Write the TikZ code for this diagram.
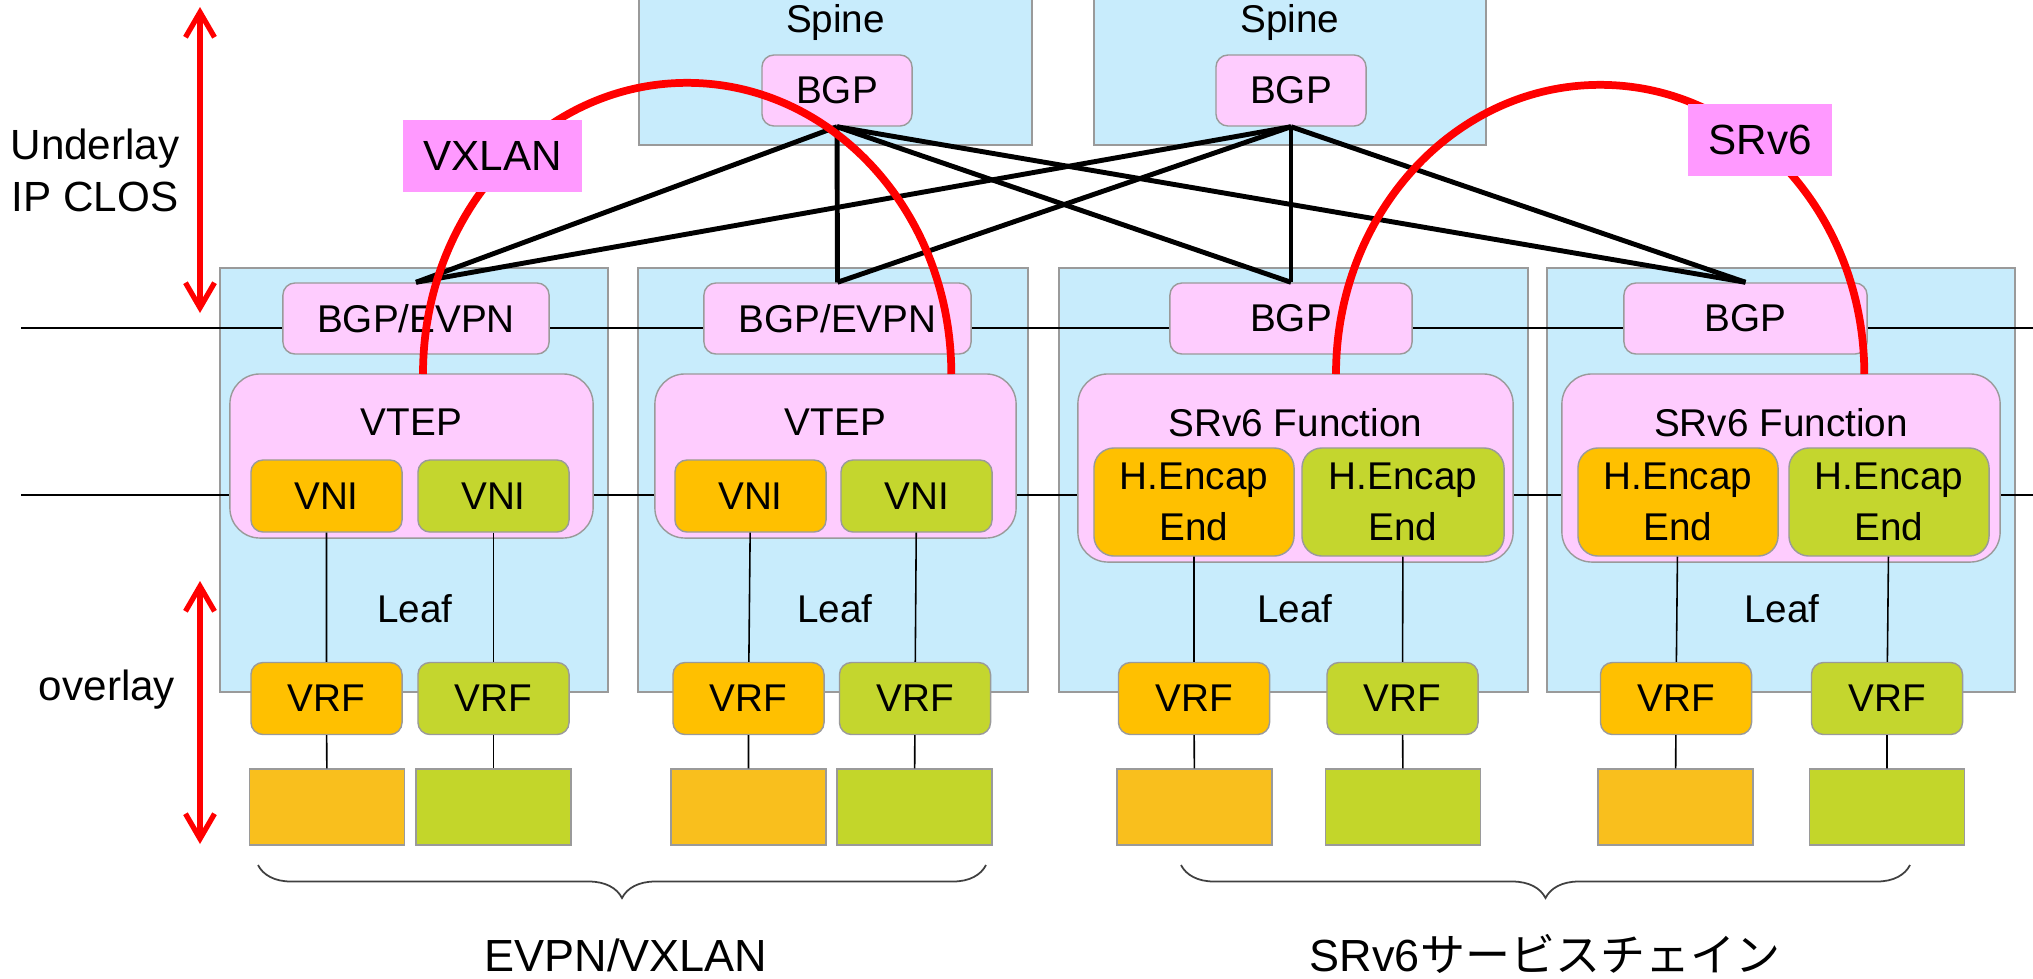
\documentclass[tikz,border=0pt]{standalone}
\usepackage{fontspec}
\setmainfont{Liberation Sans}
\newfontfamily\jpfont{Noto Sans CJK JP}
\usetikzlibrary{arrows.meta,decorations.pathreplacing}
\definecolor{skyFill}{HTML}{C8ECFC}
\definecolor{edgeGray}{HTML}{9A9A9A}
\definecolor{pinkFill}{HTML}{FECCFE}
\definecolor{tagPink}{HTML}{FF99FF}
\definecolor{vniOrange}{HTML}{FFC000}
\definecolor{vniGreen}{HTML}{C4D62E}
\definecolor{hostOrange}{HTML}{F9BF1D}
\definecolor{hostGreen}{HTML}{C3D62A}
\definecolor{braceGray}{HTML}{404040}

\begin{document}
\begin{tikzpicture}[
  x=0.01cm,y=-0.01cm,
  every node/.style={font=\fontsize{11}{14.5}\selectfont},
  shell/.style={draw=edgeGray,fill=skyFill,inner sep=0pt},
  proto/.style={draw=edgeGray,fill=pinkFill,rounded corners=1.2mm,inner sep=0pt,minimum height=0.71cm},
  func/.style={draw=edgeGray,fill=pinkFill,rounded corners=3mm,inner sep=0pt},
  ornbox/.style={draw=edgeGray,fill=vniOrange,rounded corners=1.2mm,inner sep=0pt,
    minimum width=1.51cm,minimum height=0.72cm},
  grnbox/.style={ornbox,fill=vniGreen},
  encO/.style={ornbox,rounded corners=2mm,minimum width=2cm,minimum height=1.08cm,align=center},
  encG/.style={encO,fill=vniGreen},
  hostO/.style={draw=edgeGray,fill=hostOrange,inner sep=0pt,minimum width=1.55cm,minimum height=0.76cm},
  hostG/.style={hostO,fill=hostGreen},
  tag/.style={fill=tagPink,inner sep=0pt,minimum height=0.72cm,font=\fontsize{12}{14}\selectfont},
  side/.style={anchor=base,font=\fontsize{12}{14}\selectfont},
  link/.style={line width=1.4pt,draw=black},
  wire/.style={line width=0.45pt,draw=black},
  tunnel/.style={line width=2.2pt,draw=red},
  reach/.style={{Straight Barb[length=2.5mm,width=2.9mm]}-{Straight Barb[length=2.5mm,width=2.9mm]},
    line width=1.5pt,draw=red},
  curly/.style={decorate,decoration={brace,mirror,amplitude=3.3mm},line width=0.5pt,draw=braceGray},
  group/.style={anchor=base,font=\fontsize{12.8}{15}\selectfont}
]
\useasboundingbox (0,0) rectangle (2033,978);

% spines
\node[shell,minimum width=3.93cm,minimum height=1.5cm] (spineA) at (835.5,70) {};
\node[shell,minimum width=3.92cm,minimum height=1.5cm] (spineB) at (1290,70) {};
\node[anchor=base] (spineAt) at (835.5,32) {Spine};
\node[anchor=base] (spineBt) at (1290,32) {Spine};
\node[proto,minimum width=1.5cm] (sbgpA) at (837,90.5) {BGP};
\node[proto,minimum width=1.5cm] (sbgpB) at (1291,90.5) {BGP};

% leaves
\node[shell,minimum width=3.88cm,minimum height=4.24cm] (leafA) at (414,480) {};
\node[shell,minimum width=3.90cm,minimum height=4.24cm] (leafB) at (833,480) {};
\node[shell,minimum width=4.69cm,minimum height=4.24cm] (leafC) at (1293.5,480) {};
\node[shell,minimum width=4.68cm,minimum height=4.24cm] (leafD) at (1781,480) {};

% layer lines
\coordinate (bgpW) at (21,328); \coordinate (bgpE) at (2033,328);
\coordinate (vniW) at (21,495); \coordinate (vniE) at (2033,495);
\draw[wire] (bgpW) -- (bgpE); \draw[wire] (vniW) -- (vniE);

\node[proto,minimum width=2.66cm] (lbgpA) at (416,318.5) {BGP/EVPN};
\node[proto,minimum width=2.67cm] (lbgpB) at (837.5,318.5) {BGP/EVPN};
\node[proto,minimum width=2.42cm] (lbgpC) at (1291,318.5) {BGP};
\node[proto,minimum width=2.43cm] (lbgpD) at (1745.5,318.5) {BGP};

% VTEP and SRv6 function blocks
\node[func,minimum width=3.63cm,minimum height=1.64cm] (vtepA) at (411.5,456) {};
\node[func,minimum width=3.61cm,minimum height=1.64cm] (vtepB) at (835.5,456) {};
\node[func,minimum width=4.35cm,minimum height=1.88cm] (funcC) at (1295.5,468) {};
\node[func,minimum width=4.38cm,minimum height=1.88cm] (funcD) at (1781,468) {};
\node[anchor=base] (vtepAt) at (411.5,435) {VTEP};
\node[anchor=base] (vtepBt) at (835.5,435) {VTEP};
\node[anchor=base] (funcCt) at (1295.5,436) {SRv6 Function};
\node[anchor=base] (funcDt) at (1781,436) {SRv6 Function};

\node[ornbox] (vniA1) at (326.5,496) {VNI};
\node[grnbox] (vniA2) at (493.5,496) {VNI};
\node[ornbox] (vniB1) at (750.5,496) {VNI};
\node[grnbox] (vniB2) at (916.5,496) {VNI};
\node[encO] (vniC1) at (1194,502) {H.Encap\\End};
\node[encG,minimum width=2.02cm] (vniC2) at (1403,502) {H.Encap\\End};
\node[encO] (vniD1) at (1678,502) {H.Encap\\End};
\node[encG] (vniD2) at (1889,502) {H.Encap\\End};

\node[anchor=base] (leafAt) at (415,622) {Leaf};
\node[anchor=base] (leafBt) at (835,622) {Leaf};
\node[anchor=base] (leafCt) at (1295,622) {Leaf};
\node[anchor=base] (leafDt) at (1782,622) {Leaf};

% VRFs and hosts
\node[ornbox] (vrfA1) at (326.5,698.5) {VRF};
\node[grnbox] (vrfA2) at (493.5,698.5) {VRF};
\node[ornbox] (vrfB1) at (748.5,698.5) {VRF};
\node[grnbox] (vrfB2) at (915,698.5) {VRF};
\node[ornbox] (vrfC1) at (1194,698.5) {VRF};
\node[grnbox] (vrfC2) at (1402.5,698.5) {VRF};
\node[ornbox] (vrfD1) at (1676,698.5) {VRF};
\node[grnbox] (vrfD2) at (1887,698.5) {VRF};

\node[hostO] (hostA1) at (327,807) {};
\node[hostG] (hostA2) at (493.5,807) {};
\node[hostO] (hostB1) at (748.5,807) {};
\node[hostG] (hostB2) at (914.5,807) {};
\node[hostO] (hostC1) at (1194.5,807) {};
\node[hostG] (hostC2) at (1403,807) {};
\node[hostO] (hostD1) at (1675.5,807) {};
\node[hostG] (hostD2) at (1887,807) {};

\draw[wire] (vniA1) -- (vrfA1) -- (hostA1); \draw[wire] (vniA2) -- (vrfA2) -- (hostA2);
\draw[wire] (vniB1) -- (vrfB1) -- (hostB1); \draw[wire] (vniB2) -- (vrfB2) -- (hostB2);
\draw[wire] (vniC1) -- (vrfC1) -- (hostC1); \draw[wire] (vniC2) -- (vrfC2) -- (hostC2);
\draw[wire] (vniD1) -- (vrfD1) -- (hostD1); \draw[wire] (vniD2) -- (vrfD2) -- (hostD2);

% underlay mesh
\draw[link] (sbgpA.south) -- (lbgpA.north); \draw[link] (sbgpA.south) -- (lbgpB.north);
\draw[link] (sbgpA.south) -- (lbgpC.north); \draw[link] (sbgpA.south) -- (lbgpD.north);
\draw[link] (sbgpB.south) -- (lbgpA.north); \draw[link] (sbgpB.south) -- (lbgpB.north);
\draw[link] (sbgpB.south) -- (lbgpC.north); \draw[link] (sbgpB.south) -- (lbgpD.north);

% tunnels
\coordinate (vxlanL) at (423,374);
\coordinate (srL) at (1336,374);
\draw[tunnel] (vxlanL) arc[start angle=180,end angle=0,x radius=2.64cm,y radius=2.91cm];
\draw[tunnel] (srL) arc[start angle=180,end angle=0,x radius=2.64cm,y radius=2.89cm];
\node[tag,minimum width=1.79cm] (vxlanTag) at (492.5,156) {VXLAN};
\node[tag,minimum width=1.44cm] (srTag) at (1760,140) {SRv6};

% layers
\coordinate (ulTop) at (200,7); \coordinate (ulBot) at (200,313);
\coordinate (olTop) at (200,581); \coordinate (olBot) at (200,844);
\draw[reach] (ulTop) -- (ulBot); \draw[reach] (olTop) -- (olBot);
\node[side] (ulText) at (95,159) {Underlay};
\node[side] (ulText2) at (95,211) {IP CLOS};
\node[side] (olText) at (107,700) {overlay};

% groups
\coordinate (evpnW) at (258,865); \coordinate (evpnE) at (986,865);
\coordinate (srW) at (1181,865); \coordinate (srE) at (1910,865);
\draw[curly] (evpnW) -- (evpnE); \draw[curly] (srW) -- (srE);
\node[group] (evpnLbl) at (626,971) {EVPN/VXLAN};
\node[group] (srLbl) at (1545,971) {SRv6{\jpfont サービスチェイン}};
\end{tikzpicture}
\end{document}
